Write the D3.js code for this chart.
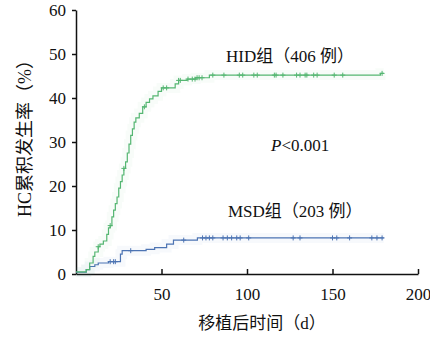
<!DOCTYPE html>
<html>
<head>
<meta charset="utf-8">
<script src="https://cdn.jsdelivr.net/npm/d3@7"></script>
<style>
  body { margin: 0; background: #fff; }
  text { font-family: "Liberation Serif", "Noto Sans CJK SC", serif; fill: #111; }
</style>
</head>
<body>
<div id="chart"></div>
<script>
// HID group: cumulative incidence steps [day, %]
const hidDays = [0, 6, 8, 10, 11, 13, 14, 16, 18, 19, 20, 21, 22, 23, 24, 25, 26, 27, 28, 29, 30, 31, 32, 33, 34, 35, 37, 39, 41, 43, 45, 48, 50, 58, 60, 65, 70, 78, 178, 180];
const hidValues = [0.5, 1, 2.5, 4, 5, 6.2, 6.8, 7.5, 9, 10.5, 11, 13, 14.5, 16, 17.5, 19.5, 21, 22.5, 24, 25.5, 27.5, 29.5, 31.5, 33, 34.5, 35.5, 36.5, 38, 39, 39.8, 40.5, 41.5, 42.3, 43.2, 44, 44.3, 44.6, 45.2, 45.6, 45.6];
const hidCensored = [13, 20, 28, 40, 51, 53, 60, 61, 65.5, 68, 69.6, 70.8, 72, 73.7, 80, 86.5, 95.5, 97.5, 104, 106, 116, 117, 121, 129, 131, 134, 135, 139, 141, 151, 156, 179];

// MSD group
const msdDays = [0, 6, 8, 11, 13, 19, 26, 27, 41, 46, 53, 57, 71, 180];
const msdValues = [0.4, 1, 1.7, 2.1, 2.5, 2.8, 4.5, 5.3, 5.6, 6.0, 6.8, 7.7, 8.2, 8.2];
const msdCensored = [20, 22, 23, 32, 63, 74, 76, 78, 80, 86, 88.5, 91, 94, 96, 101, 127, 131, 150, 152.5, 160, 173, 176, 179];

const xTicks = [50, 100, 150, 200];
const yTicks = [0, 10, 20, 30, 40, 50, 60];

const width = 430, height = 337;
const margin = {top: 10, right: 12, bottom: 63, left: 76};

const svg = d3.select("#chart").append("svg")
    .attr("width", width)
    .attr("height", height);

const x = d3.scaleLinear().domain([0, 200]).range([margin.left, width - margin.right]);
const y = d3.scaleLinear().domain([0, 60]).range([height - margin.bottom, margin.top]);

// axes
svg.append("g")
    .attr("transform", `translate(0,${y(0)})`)
    .call(d3.axisBottom(x).tickValues(xTicks).tickSizeInner(-5).tickSizeOuter(0).tickPadding(14))
    .call(g => g.selectAll("text").style("font-size", "17px"))
    .call(g => g.selectAll("line,path").attr("stroke", "#111").attr("stroke-width", 1.5));

svg.append("g")
    .attr("transform", `translate(${x(0)},0)`)
    .call(d3.axisLeft(y).tickValues(yTicks).tickSizeInner(4).tickSizeOuter(0).tickPadding(6))
    .call(g => g.selectAll("text").style("font-size", "17px"))
    .call(g => g.selectAll("line,path").attr("stroke", "#111").attr("stroke-width", 1.5));

const line = d3.line().curve(d3.curveStepAfter)
    .x(d => x(d[0]))
    .y(d => y(d[1]));

function stepValue(days, values, t) {
    const i = d3.bisectRight(days, t) - 1;
    return values[Math.max(0, i)];
}

function drawSeries(days, values, censored, color) {
    const pts = days.map((d, i) => [d, values[i]]);
    // faint halo around the curve
    svg.append("path").datum(pts)
        .attr("fill", "none").attr("stroke", color)
        .attr("stroke-opacity", 0.045).attr("stroke-width", 10)
        .attr("d", line);
    svg.append("path").datum(pts)
        .attr("fill", "none").attr("stroke", color)
        .attr("stroke-width", 1.2)
        .attr("d", line);
    svg.append("g").selectAll("path")
        .data(censored)
        .join("path")
        .attr("stroke", color).attr("stroke-width", 1)
        .attr("d", t => {
            const cx = x(t), cy = y(stepValue(days, values, t));
            return `M${cx - 2.5},${cy}H${cx + 2.5}M${cx},${cy - 2.5}V${cy + 2.5}`;
        });
}

drawSeries(msdDays, msdValues, msdCensored, "#4d74b3");
drawSeries(hidDays, hidValues, hidCensored, "#55b672");

// annotations
svg.append("text").attr("x", 226).attr("y", 62)
    .style("font-size", "17px").text("HID组（406 例）");
svg.append("text").attr("x", 228).attr("y", 217)
    .style("font-size", "17px").text("MSD组（203 例）");
const p = svg.append("text").attr("x", 271).attr("y", 151).style("font-size", "17px");
p.append("tspan").style("font-style", "italic").text("P");
p.append("tspan").text("<0.001");

// axis titles
svg.append("text")
    .attr("x", 262).attr("y", 329)
    .attr("text-anchor", "middle")
    .style("font-size", "17px")
    .text("移植后时间（d）");

svg.append("text")
    .attr("transform", `translate(31,134) rotate(-90)`)
    .attr("text-anchor", "middle")
    .style("font-size", "18px")
    .text("HC累积发生率（%）");
</script>
</body>
</html>
